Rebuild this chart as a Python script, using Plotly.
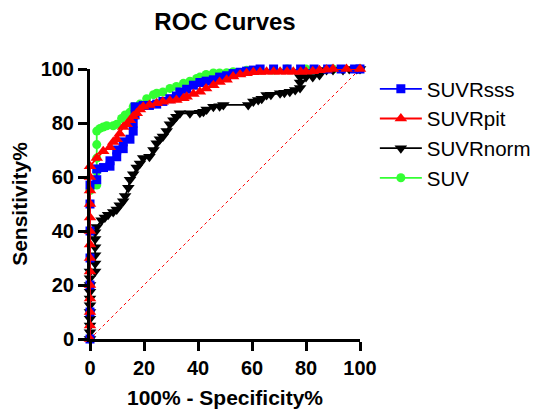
import plotly.graph_objects as go

# ---- data (100% - Specificity%, Sensitivity%) ----
sss_x = [0, 0, 0, 0, 0, 0, 0, 2.5, 2.5, 5, 7.4, 7.4, 9.9, 9.9, 12.3, 12.3, 14.8, 16, 16, 16.7, 16.7,
         19.7, 22, 24.7, 27, 29.6, 32, 33.3, 35.8, 38.3, 40.7, 43, 45.7, 48, 50.6, 53, 55.6, 58, 60.5,
         63, 68, 73, 78, 83, 88, 93, 98, 100]
sss_y = [0, 10, 20, 30, 40, 50, 57, 59, 63, 63.5, 64, 66, 67.5, 70, 70.5, 73, 74, 77, 80, 83, 86,
         86.5, 86.5, 87, 88, 89, 90, 91.5, 92.5, 94, 95, 95.5, 96, 97, 97.5, 98.3, 98.8, 99.2, 99.6,
         100, 100, 100, 100, 100, 100, 100, 100, 100]

pit_x = [0, 0, 0, 0, 0, 0, 0, 0, 0, 0, 0, 0, 0, 0, 2.5, 4.9, 7.4, 8.6, 9.9, 11, 12.3, 13.6, 14.8,
         16, 17.3, 18.5, 19.7, 22, 24.7, 27, 29.6, 32, 34.6, 35.8, 38.3, 40.7, 43, 45.7, 48, 50.6,
         53, 55.6, 58, 60.5, 63, 65.4, 68, 70.4, 73, 75.3, 78, 80, 82.5, 85, 87.6, 90, 95, 100]
pit_y = [0, 5, 10, 15, 20, 25, 30, 35, 40, 45, 50, 55, 60, 64, 67, 69.5, 71, 73, 74, 76, 78.5, 79.5,
         81, 82.5, 83.6, 85, 86, 86.7, 87.3, 87.9, 88.2, 88.5, 89.2, 89.7, 90.7, 91.6, 92.8, 94, 95.2,
         96, 97.2, 98, 98.4, 98.8, 98.9, 99, 99, 99, 99, 99, 99, 99, 99.2, 99.5, 99.7, 100, 100, 100]

norm_x = [0, 0, 0, 0, 0, 0, 0, 0, 0, 0, 0, 1.9, 1.9, 1.9, 1.9, 1.9, 1.9, 2.5, 4.3, 5.5, 6.7, 8.6,
          9.9, 11, 12.3, 13, 14.2, 14.8, 16, 17.3, 18.5, 19.7, 22, 23.5, 24.7, 25.9, 27, 28.4, 29.6,
          30.9, 32, 33.3, 37, 40.7, 42, 43.2, 45.7, 48, 49.4, 58.6, 60.5, 62.3, 63.6, 65.4, 67, 70.4,
          72, 74, 76, 77.8, 77.8, 77.8, 80, 82.5, 85, 87.6, 90, 93.7, 96, 98.8, 100]
norm_y = [0, 2.5, 5, 7.5, 10, 12.5, 15, 17.5, 20, 22.5, 25, 25, 28, 31, 34, 37, 39.5, 41.5, 44, 45,
          46, 47, 48, 49.5, 51, 53, 56, 59, 61, 63.5, 65, 67, 67.5, 70, 72.5, 74, 75, 77, 79.5, 81,
          82.3, 83.6, 83.6, 83.8, 84.2, 85, 86, 86.2, 86.7, 86.7, 88, 88.5, 89, 90.4, 90.5, 91,
          91.2, 91.6, 92.2, 93, 95, 97, 97, 97, 97.8, 99.6, 99.6, 99.6, 100, 100, 100]

suv_x = [0, 0, 0, 0, 2.5, 2.5, 2.5, 2.5, 2.5, 3.7, 4.9, 6.2, 8.6, 9.9, 11.7, 13, 14.8, 16, 18.5,
         21, 23.5, 24.7, 27, 29.6, 32, 34.6, 37, 39.5, 40.7, 43, 45.7, 48, 50.6, 53, 58, 63, 68,
         73, 80, 90, 100]
suv_y = [0, 20, 40, 55, 57, 62, 67, 72, 77, 78, 78.5, 79, 79, 79.5, 81.7, 83, 84, 86, 87, 89,
         90.5, 91, 91.5, 92.8, 93.5, 94.7, 95.5, 96.5, 97, 98, 98.5, 98.5, 98.6, 99, 99.5, 99.6,
         99.6, 100, 100, 100, 100]

diag_x = [0, 100]
diag_y = [0, 100]

ticks = [0, 20, 40, 60, 80, 100]
tick_labels = ["0", "20", "40", "60", "80", "100"]

FONT = "Liberation Sans, Arial, sans-serif"

fig = go.Figure()

fig.add_trace(go.Scatter(x=suv_x, y=suv_y, name="SUV", mode="lines+markers",
                         line=dict(color="#33FF33", width=1.8),
                         marker=dict(symbol="circle", size=9, color="#33FF33"),
                         cliponaxis=False, legendrank=4))
fig.add_trace(go.Scatter(x=norm_x, y=norm_y, name="SUVRnorm", mode="lines+markers",
                         line=dict(color="black", width=1.8),
                         marker=dict(symbol="triangle-down", size=11, color="black"),
                         cliponaxis=False, legendrank=3))
fig.add_trace(go.Scatter(x=sss_x, y=sss_y, name="SUVRsss", mode="lines+markers",
                         line=dict(color="#0000FF", width=1.8),
                         marker=dict(symbol="square", size=9, color="#0000FF"),
                         cliponaxis=False, legendrank=1))
fig.add_trace(go.Scatter(x=pit_x, y=pit_y, name="SUVRpit", mode="lines+markers",
                         line=dict(color="#FF0000", width=1.8),
                         marker=dict(symbol="triangle-up", size=11, color="#FF0000"),
                         cliponaxis=False, legendrank=2))
fig.add_trace(go.Scatter(x=diag_x, y=diag_y, mode="lines", showlegend=False,
                         line=dict(color="#FF0000", width=1, dash="dot"),
                         hoverinfo="skip"))

axis_common = dict(range=[0, 100], tickvals=ticks, ticktext=tick_labels,
                   showline=True, linecolor="black", linewidth=3,
                   ticks="outside", ticklen=9, tickwidth=3, tickcolor="black",
                   showgrid=False, zeroline=False, automargin=False,
                   tickfont=dict(family=FONT, size=20, color="black", weight="bold"))

# the page shows the figure offset by the default 8px body margin; compensate
fig.update_layout(
    width=540, height=410,
    margin=dict(l=82, r=188, t=61, b=79, autoexpand=False),
    paper_bgcolor="white", plot_bgcolor="white",
    font=dict(family=FONT, color="black"),
    title=dict(text="<b>ROC Curves</b>", x=0.5, xref="paper", y=1 - 14 / 410,
               yref="container", yanchor="middle", xanchor="center",
               font=dict(family=FONT, size=24, color="black")),
    xaxis=dict(**axis_common,
               title=dict(text="<b>100% - Specificity%</b>", standoff=13,
                          font=dict(family=FONT, size=21, color="black"))),
    yaxis=dict(**axis_common,
               title=dict(text="<b>Sensitivity%</b>", standoff=10,
                          font=dict(family=FONT, size=21, color="black"))),
    legend=dict(x=1.055, y=1.0, xanchor="left", yanchor="top",
                font=dict(family=FONT, size=20.5, color="black"),
                bgcolor="rgba(0,0,0,0)", tracegroupgap=0, itemwidth=42,
                traceorder="normal"),
    showlegend=True,
)

fig.write_html("out.html")
